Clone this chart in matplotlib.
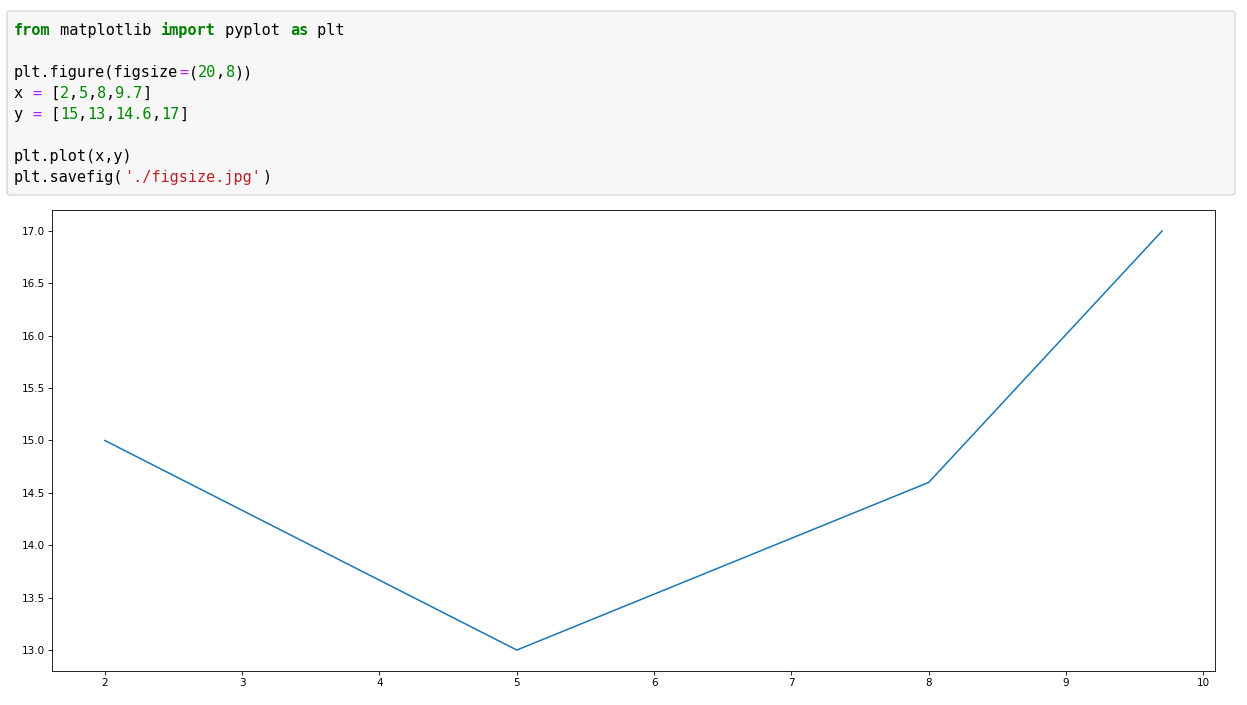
import matplotlib.pyplot as plt
from matplotlib.patches import FancyBboxPatch

# данные графика
x = [2, 5, 8, 9.7]
y = [15, 13, 14.6, 17]

# строки кода ячейки: (текст, тип токена)
code_lines = [
    [('from', 'kw'), (' matplotlib ', 'p'), ('import', 'kw'), (' pyplot ', 'p'), ('as', 'kw'), (' plt', 'p')],
    [],
    [('plt.figure(figsize', 'p'), ('=', 'op'), ('(', 'p'), ('20', 'num'), (',', 'p'), ('8', 'num'), ('))', 'p')],
    [('x ', 'p'), ('=', 'op'), (' [', 'p'), ('2', 'num'), (',', 'p'), ('5', 'num'), (',', 'p'),
     ('8', 'num'), (',', 'p'), ('9.7', 'num'), (']', 'p')],
    [('y ', 'p'), ('=', 'op'), (' [', 'p'), ('15', 'num'), (',', 'p'), ('13', 'num'), (',', 'p'),
     ('14.6', 'num'), (',', 'p'), ('17', 'num'), (']', 'p')],
    [],
    [('plt.plot(x,y)', 'p')],
    [('plt.savefig(', 'p'), ("'./figsize.jpg'", 'str'), (')', 'p')],
]
token_style = {
    'kw': ('#008000', 'bold'),
    'p': ('#000000', 'normal'),
    'op': ('#aa22ff', 'normal'),
    'num': ('#008800', 'normal'),
    'str': ('#ba2121', 'normal'),
}

W, H = 1247, 705
fig = plt.figure(figsize=(W / 100, H / 100), dpi=100)

# серый блок с кодом
box = FancyBboxPatch((7 / W, 1 - 195 / H), 1228 / W, 184 / H,
                     boxstyle='round,pad=0,rounding_size=0.003',
                     transform=fig.transFigure, facecolor='#f7f7f7',
                     edgecolor='#cfcfcf', linewidth=0.8)
fig.patches.append(box)

fs = 11
char_w = 0.602 * fs * 100 / 72  # ширина символа моноширинного шрифта, px
y0, step = 35, 21
for i, line in enumerate(code_lines):
    col = 0
    for txt, kind in line:
        color, weight = token_style[kind]
        fig.text((14 + col * char_w) / W, 1 - (y0 + i * step) / H, txt,
                 family='DejaVu Sans Mono', fontsize=fs, color=color,
                 fontweight=weight, va='baseline', ha='left')
        col += len(txt)

# сам график
ax = fig.add_axes([52 / W, 1 - 671 / H, 1163 / W, 461 / H])
ax.plot(x, y, color='#1f77b4', linewidth=1.12)
ax.tick_params(labelsize=7.5, length=2.6, width=0.6, pad=2.6)
for s in ax.spines.values():
    s.set_linewidth(0.6)

plt.savefig('out.png', dpi=100)
